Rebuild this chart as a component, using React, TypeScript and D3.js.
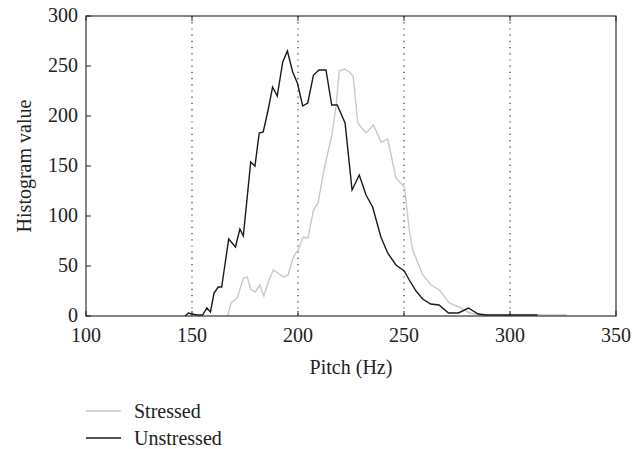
import React from "react";
import * as d3 from "d3";

const xTicks = [100, 150, 200, 250, 300, 350];
const yTicks = [0, 50, 100, 150, 200, 250, 300];
const gridX = [150, 200, 250, 300];

const unstressedHz = [146.8, 148.3, 150, 152.5, 155, 157, 158.7, 160.4, 162.4, 164, 167.3, 170.5, 172.6, 174.2, 177.7, 179.7, 181.7, 183.6, 186, 188, 190.2, 192.8, 195, 197.5, 199.7, 202.2, 204.6, 207.3, 209.9, 213.2, 215.9, 218.5, 222.2, 225.5, 228.9, 232.1, 235.2, 239.1, 242.3, 246.2, 250.1, 252.5, 255.7, 258.8, 262.6, 266.5, 271, 275.7, 280.4, 285, 289, 295, 313];
const unstressedVal = [0, 3, 2, 1, 1, 8, 4, 23, 29, 29, 77, 69, 87, 80, 154, 150, 183, 184, 207, 229, 220, 254, 265, 244, 233, 210, 213, 241, 246, 246, 211, 211, 193, 126, 141, 121, 109, 79, 63, 51, 45, 36, 25, 17, 12, 11, 3, 3, 8, 2, 1, 1, 1];

const stressedHz = [166.8, 168.4, 171.3, 174.2, 176.1, 177.6, 179.8, 182, 183.9, 186.3, 188.4, 190.5, 193.1, 195.3, 197.8, 200, 202.5, 204.7, 207.3, 209.5, 211.6, 213.6, 216, 217.9, 219.5, 221.9, 224.3, 226, 228.2, 229.7, 232.1, 235.6, 239.2, 242.3, 246.2, 250.2, 252.5, 254.1, 258.8, 262.8, 266.7, 271.4, 276.9, 280.9, 286.5, 300, 326.7];
const stressedVal = [0, 13, 18, 38, 39, 27, 24, 31, 20, 36, 46, 43, 39, 41, 59, 66, 79, 78, 106, 113, 139, 159, 181, 209, 245, 247, 244, 240, 193, 189, 183, 191, 174, 177, 138, 129, 86, 66, 41, 31, 26, 13, 8, 3, 1, 1, 1];

const seriesNames = ["Stressed", "Unstressed"];
const seriesColors = ["#c9c9c9", "#1a1a1a"];

export default function App() {
  const W = 642, H = 449;
  const left = 86, right = 616, top = 16, bottom = 316;
  const x = d3.scaleLinear().domain([100, 350]).range([left, right]);
  const y = d3.scaleLinear().domain([0, 300]).range([bottom, top]);
  const line = d3.line<[number, number]>().x(d => x(d[0])).y(d => y(d[1]));
  const unstressed = unstressedHz.map((h, i) => [h, unstressedVal[i]] as [number, number]);
  const stressed = stressedHz.map((h, i) => [h, stressedVal[i]] as [number, number]);
  const font = "'Liberation Serif', 'Times New Roman', serif";
  const fs = 20;
  return (
    <svg width={W} height={H} style={{ position: "absolute", left: 0, top: 0, background: "#fff" }} fontFamily={font}>
      <rect x={0} y={0} width={W} height={H} fill="#fff" />
      {gridX.map(v => (
        <line key={v} x1={x(v)} x2={x(v)} y1={top} y2={bottom} stroke="#333" strokeWidth={1.2} strokeDasharray="1.2,5" />
      ))}
      <path d={line(stressed) || ""} fill="none" stroke={seriesColors[0]} strokeWidth={1.4} />
      <path d={line(unstressed) || ""} fill="none" stroke={seriesColors[1]} strokeWidth={1.4} />
      <rect x={left} y={top} width={right - left} height={bottom - top} fill="none" stroke="#222" strokeWidth={1.1} />
      {yTicks.map(v => (
        <g key={v}>
          <line x1={left} x2={left + 5} y1={y(v)} y2={y(v)} stroke="#222" />
          <text x={left - 8} y={y(v) + 6} textAnchor="end" fontSize={fs} fill="#222">{v}</text>
        </g>
      ))}
      {xTicks.map(v => (
        <g key={v}>
          <line x1={x(v)} x2={x(v)} y1={bottom} y2={bottom - 5} stroke="#222" />
          <line x1={x(v)} x2={x(v)} y1={top} y2={top + 5} stroke="#222" />
          <text x={x(v)} y={bottom + 26} textAnchor="middle" fontSize={fs} fill="#222">{v}</text>
        </g>
      ))}
      <text x={(left + right) / 2} y={bottom + 58} textAnchor="middle" fontSize={fs} fill="#222">Pitch (Hz)</text>
      <text transform={`translate(31, ${(top + bottom) / 2}) rotate(-90)`} textAnchor="middle" fontSize={fs} fill="#222">Histogram value</text>
      {seriesNames.map((n, i) => (
        <g key={n}>
          <line x1={86} x2={121} y1={411 + i * 27} y2={411 + i * 27} stroke={seriesColors[i]} strokeWidth={1.4} />
          <text x={134} y={417.5 + i * 27} fontSize={fs} fill="#222">{n}</text>
        </g>
      ))}
    </svg>
  );
}
